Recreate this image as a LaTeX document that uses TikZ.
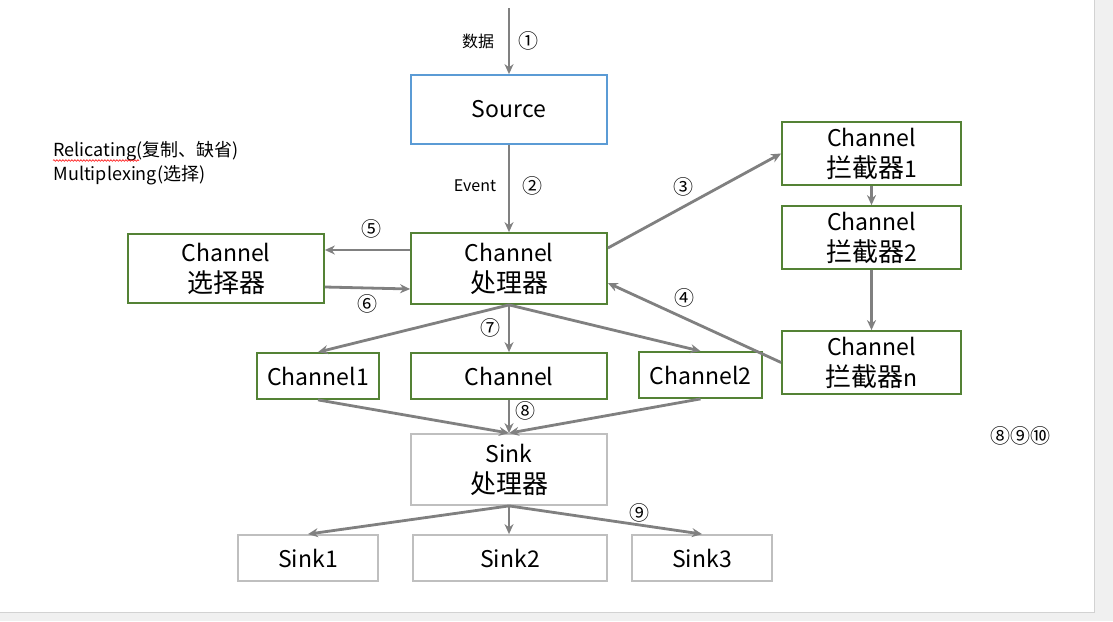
\documentclass[tikz,border=0pt]{standalone}
\usepackage{fontspec}
\setmainfont{Noto Sans CJK SC}
\usetikzlibrary{arrows.meta,decorations.pathmorphing}
\definecolor{srcblue}{HTML}{5B9BD5}
\definecolor{chgreen}{HTML}{548235}
\definecolor{sinkgray}{HTML}{BFBFBF}
\definecolor{linegray}{HTML}{808080}
\newcommand{\zh}[1]{{\fontsize{26}{31}\selectfont #1}}
\begin{document}
\begin{tikzpicture}[x=1pt, y=-1pt, >={Stealth[length=10pt,width=9pt]},
  box/.style={draw, rectangle, line width=1.8pt, inner sep=0pt, align=center,
    font=\fontsize{23}{31}\selectfont},
  src/.style={box, draw=srcblue},
  chan/.style={box, draw=chgreen},
  sink/.style={box, draw=sinkgray},
  flow/.style={->, draw=linegray, line width=2.8pt},
  lbl/.style={font=\fontsize{16}{18}\selectfont},
  num/.style={font=\fontsize{20}{22}\selectfont}]
\useasboundingbox (0,0) rectangle (1113,621);
\fill[gray!12] (0,0) rectangle (1113,621);
\fill[white] (0,0) rectangle (1094,612);
\draw[gray!35, line width=1pt] (1094,0) -- (1094,612) -- (0,612);
% nodes
\coordinate (in) at (509,8);
\node[src, minimum width=196, minimum height=69] (source) at (509,109.5) {Source};
\node[chan, minimum width=196, minimum height=71] (proc) at (509,268.5) {Channel\\\zh{处理器}};
\node[chan, minimum width=196, minimum height=69] (sel) at (226,268.5) {Channel\\\zh{选择器}};
\node[chan, minimum width=179, minimum height=63] (int1) at (871.5,153.5) {Channel\\\zh{拦截器}1};
\node[chan, minimum width=179, minimum height=63] (int2) at (871.5,237.5) {Channel\\\zh{拦截器}2};
\node[chan, minimum width=179, minimum height=63] (intn) at (871.5,362.5) {Channel\\\zh{拦截器}n};
\node[chan, minimum width=122, minimum height=46] (ch1) at (318,376) {Channel1};
\node[chan, minimum width=196, minimum height=46] (ch) at (509,376) {Channel};
\node[chan, minimum width=123, minimum height=46] (ch2) at (700.5,375) {Channel2};
\node[sink, minimum width=196, minimum height=71] (sproc) at (509,469.5) {Sink\\\zh{处理器}};
\node[sink, minimum width=140, minimum height=46] (sink1) at (308,558) {Sink1};
\node[sink, minimum width=194, minimum height=46] (sink2) at (510,558) {Sink2};
\node[sink, minimum width=140, minimum height=46] (sink3) at (702,558) {Sink3};
% labels
\node[lbl] (data) at (478,41) {数据};
\node[num] (n1) at (528,41) {①};
\node[lbl] (event) at (475,186) {Event};
\node[num] (n2) at (532,186) {②};
\node[num] (n3) at (683,187) {③};
\node[num] (n4) at (684,298) {④};
\node[num] (n5) at (371,229) {⑤};
\node[num] (n6) at (367,304) {⑥};
\node[num] (n7) at (490,328) {⑦};
\node[num] (n8) at (525,411) {⑧};
\node[num] (n9) at (639,513) {⑨};
\node[num] (n10) at (1020,436) {⑧⑨⑩};
\node[anchor=base west, font=\fontsize{18}{22}\selectfont] (rel) at (50,156) {Relicating(复制、缺省)};
\node[anchor=base west, font=\fontsize{18}{22}\selectfont] (mux) at (50,180) {Multiplexing(选择)};
\draw[red, line width=0.6pt, decorate, decoration={snake, segment length=3pt, amplitude=0.8pt}] (53,160.5) -- (139,160.5);
% connectors
\draw[flow] (in) -- (source.north);
\draw[flow] (source.south) -- (proc.north);
\draw[flow] ([yshift=20.5]proc.east) -- (int1.west);
\draw[flow] (int1.south) -- (int2.north);
\draw[flow] (int2.south) -- (intn.north);
\draw[flow] (intn.west) -- ([yshift=-14.5]proc.east);
\draw[flow] ([yshift=18.5]proc.west) -- ([yshift=18.5]sel.east);
\draw[flow] ([yshift=-18.5]sel.east) -- ([yshift=-20.5]proc.west);
\draw[flow] (proc.south) -- (ch1.north);
\draw[flow] (proc.south) -- (ch.north);
\draw[flow] (proc.south) -- (ch2.north);
\draw[flow] (ch1.south) -- (sproc.north);
\draw[flow] (ch.south) -- (sproc.north);
\draw[flow] (ch2.south) -- (sproc.north);
\draw[flow] (sproc.south) -- (sink1.north);
\draw[flow] (sproc.south) -- ([xshift=-1]sink2.north);
\draw[flow] (sproc.south) -- (sink3.north);
\end{tikzpicture}
\end{document}
